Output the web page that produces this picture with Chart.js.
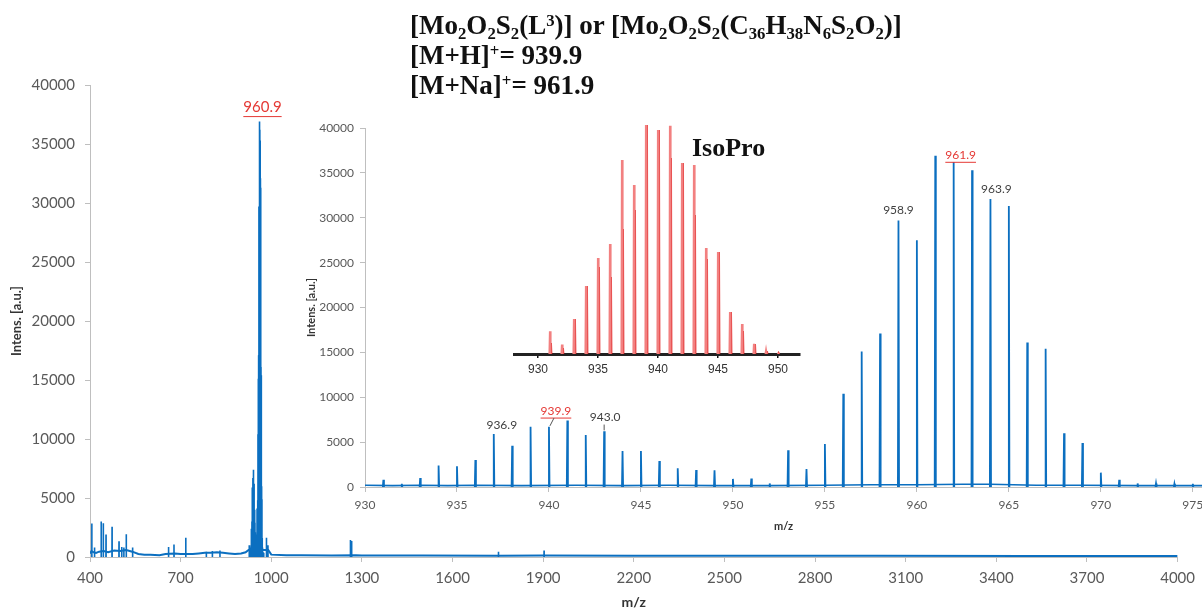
<!DOCTYPE html>
<html>
<head>
<meta charset="utf-8">
<script src="https://cdn.jsdelivr.net/npm/chart.js@4.4.0/dist/chart.umd.min.js"></script>
<style>
body{margin:0;background:#fff;width:1202px;height:613px;overflow:hidden;position:relative}
canvas{position:absolute}
#formula{position:absolute;left:410px;top:10px;font:bold 27px "Liberation Serif",serif;line-height:30px;color:#111;white-space:nowrap}
#formula sub,#formula sup{font-size:0.62em;line-height:0;position:relative;vertical-align:baseline}
#formula sub{top:0.32em}
#formula sup{top:-0.45em}
#iso{position:absolute;left:692px;top:133px;font:bold 26px "Liberation Serif",serif;line-height:30px;color:#111}
</style>
</head>
<body>
<canvas id="main" width="1202" height="613" style="left:0;top:0"></canvas>
<canvas id="inset" width="910" height="440" style="left:300px;top:100px"></canvas>
<canvas id="isopro" width="320" height="290" style="left:500px;top:100px"></canvas>
<div id="formula">[Mo<sub>2</sub>O<sub>2</sub>S<sub>2</sub>(L<sup>3</sup>)] or [Mo<sub>2</sub>O<sub>2</sub>S<sub>2</sub>(C<sub>36</sub>H<sub>38</sub>N<sub>6</sub>S<sub>2</sub>O<sub>2</sub>)]<br>[M+H]<sup>+</sup>= 939.9<br>[M+Na]<sup>+</sup>= 961.9</div>
<div id="iso">IsoPro</div>
<script>
// ---- data ----
// full range spectrum, baseline level
var mainBaseMz  = [400,405,412,420,430,445,460,480,500,520,540,560,580,600,630,650,680,700,740,760,780,800,820,840,860,880,900,915,925,990,1000,1050,1100,1200,1280,1300,1500,1750,1900,2200,2600,3000,3500,4000];
var mainBaseInt = [300,500,400,350,450,500,400,550,500,600,450,250,200,200,150,250,300,250,250,300,350,350,400,350,300,250,300,400,600,600,200,150,150,130,150,120,120,110,120,110,100,100,90,90];
// full range spectrum, isolated peaks outside the 930-975 window
var mainPeakMz  = [406,415,437,444,453,473,496,505,512,520,541,660,678,717,785,805,830,927,984,989,1262,1266,1752,1903];
var mainPeakInt = [2830,800,3000,2850,1900,2570,1330,850,800,1920,800,850,1050,1640,450,500,550,1000,1640,1000,1450,1350,450,560];

// zoomed window 930-975
var zoomMz  = [931,932,933,934,935,936,937,938,939,940,941,942,943,944,945,946,947,948,949,950,951,952,953,954,955,956,957,958,959,960,961,962,963,964,965,966,967,968,969,970,971,972,973,974,975];
var zoomInt = [800,350,1000,2400,2300,3000,5900,4600,6700,6700,7400,5800,6200,4000,4000,2900,2100,1900,1850,900,950,400,4100,2000,4800,10400,15100,17100,29700,27500,36900,36200,35300,32100,31300,16100,15400,6000,4900,1600,800,400,400,350,350];
var zoomBaseMz  = [930,931.5,933,934.5,936,938.5,941.5,944,946.5,949,952,955,957.5,960,962.5,964,966.5,969,972,975.5];
var zoomBaseInt = [200,150,200,150,200,150,200,150,200,150,150,200,250,250,300,300,200,200,150,150];

// IsoPro simulated pattern (relative %, light and dark sticks)
var isoMz    = [931,932,933,934,935,936,937,938,939,940,941,942,943,944,945,946,947,948,949,950];
var isoLight = [9.9,4.1,15.3,29.7,41.9,48,84.7,73.8,100,97.8,99.6,83.4,82.5,46.3,44.5,18.3,13.1,4.4,1.3,0.2];
var isoDark  = [4.8,2.6,15.3,29.7,38,33.6,54.6,62.9,100,97.8,85.6,83.4,60.7,41.5,44.5,18.3,10,4.4,1.3,0.2];

var BLUE = '#0b6fc0';
var AXIS = '#bfbfbf';
var TICK = '#595959';
var RED = '#e53935';

Chart.defaults.font.family = 'Lato';

function pts(xs, ys){
  var out = [];
  for (var i = 0; i < xs.length; i++) out.push({x: xs[i], y: ys[i]});
  return out;
}
// each peak as a thin spike, broken by a gap
function sticks(xs, ys, w, dx){
  var out = [];
  dx = dx || 0;
  for (var i = 0; i < xs.length; i++){
    var m = xs[i] + dx;
    out.push({x: m - w, y: 0}, {x: m, y: ys[i]}, {x: m + w, y: 0}, {x: m + w, y: null});
  }
  return out;
}
function plain(v){ return String(v); }

var peakLabels = {
  id: 'peakLabels',
  afterDatasetsDraw: function(chart, args, opts){
    var ctx = chart.ctx, xs = chart.scales.x, ys = chart.scales.y;
    (opts.items || []).forEach(function(it){
      var px = xs.getPixelForValue(it.mz), top = ys.getPixelForValue(it.y);
      var tx = px + it.dx, ty = top - it.dy;
      ctx.save();
      ctx.font = opts.font;
      ctx.fillStyle = it.color;
      ctx.textAlign = 'center';
      ctx.textBaseline = 'middle';
      ctx.fillText(it.text, tx, ty);
      var w = ctx.measureText(it.text).width;
      ctx.strokeStyle = it.color;
      ctx.lineWidth = 1;
      if (it.underline){
        ctx.beginPath();
        ctx.moveTo(tx - w / 2, ty + opts.size * 0.6);
        ctx.lineTo(tx + w / 2, ty + opts.size * 0.6);
        ctx.stroke();
      }
      if (it.leader){
        ctx.strokeStyle = '#555';
        ctx.beginPath();
        ctx.moveTo(px + it.leader[0], top - 1);
        ctx.lineTo(px + it.leader[1], ty + opts.size * 0.6);
        ctx.stroke();
      }
      ctx.restore();
    });
  }
};

function axisOpts(extra){
  var o = {
    grid: {display: true, drawOnChartArea: false, drawTicks: true, tickLength: 5, color: AXIS},
    border: {display: true, color: AXIS, width: 1}
  };
  for (var k in extra) o[k] = extra[k];
  return o;
}

// ---- main spectrum ----
new Chart(document.getElementById('main'), {
  type: 'line',
  data: {datasets: [
    {data: pts(mainBaseMz, mainBaseInt), borderColor: BLUE, borderWidth: 2, pointRadius: 0},
    {data: sticks(mainPeakMz.concat(zoomMz), mainPeakInt.concat(zoomInt), 0.3), borderColor: BLUE, borderWidth: 1.6, pointRadius: 0}
  ]},
  options: {
    responsive: false, animation: false, devicePixelRatio: 1,
    layout: {padding: {left: 0, right: 22, top: 85, bottom: 0}},
    plugins: {legend: {display: false}, tooltip: {enabled: false},
      peakLabels: {font: '15px Lato', size: 15, items: [
        {mz: 961, y: 36900, text: '960.9', color: RED, underline: true, dx: 3, dy: 14}
      ]}},
    scales: {
      x: axisOpts({type: 'linear', min: 400, max: 4000,
        ticks: {color: TICK, autoSkip: false, maxRotation: 0, stepSize: 300, padding: 7, font: {size: 15}, callback: plain},
        title: {display: true, text: 'm/z', color: '#333', font: {size: 14, weight: 'bold'}, padding: {top: 0, bottom: 2}},
        afterFit: function(s){ s.height = 56; }}),
      y: axisOpts({min: 0, max: 40000,
        ticks: {color: TICK, autoSkip: false, stepSize: 5000, padding: 10, font: {size: 15}, callback: plain},
        title: {display: true, text: 'Intens. [a.u.]', color: '#333', font: {size: 13, weight: 'bold'}, padding: {top: 9, bottom: 0}},
        afterFit: function(s){ s.width = 90; }})
    }
  },
  plugins: [peakLabels]
});

// ---- zoomed inset 930-975 ----
new Chart(document.getElementById('inset'), {
  type: 'line',
  data: {datasets: [
    {data: pts(zoomBaseMz, zoomBaseInt), borderColor: BLUE, borderWidth: 1.6, pointRadius: 0},
    {data: sticks(zoomMz, zoomInt, 0.03), borderColor: BLUE, borderWidth: 1.8, pointRadius: 0}
  ]},
  options: {
    responsive: false, animation: false, devicePixelRatio: 1,
    layout: {padding: {left: 0, right: 8, top: 28, bottom: 0}},
    plugins: {legend: {display: false}, tooltip: {enabled: false},
      peakLabels: {font: '12px Lato', size: 12, items: [
        {mz: 937, y: 5900, text: '936.9', color: '#404040', dx: 8, dy: 9},
        {mz: 940, y: 6700, text: '939.9', color: RED, underline: true, dx: 7, dy: 16, leader: [1, 5]},
        {mz: 943, y: 6200, text: '943.0', color: '#404040', dx: 1, dy: 14, leader: [0, 0]},
        {mz: 959, y: 29700, text: '958.9', color: '#404040', dx: 0, dy: 10},
        {mz: 962, y: 36200, text: '961.9', color: RED, underline: true, dx: 7, dy: 7},
        {mz: 964, y: 32100, text: '963.9', color: '#404040', dx: 6, dy: 10}
      ]}},
    scales: {
      x: axisOpts({type: 'linear', min: 930, max: 975.5,
        ticks: {color: TICK, autoSkip: false, maxRotation: 0, stepSize: 5, includeBounds: false, padding: 6, font: {size: 12}, callback: plain},
        title: {display: true, text: 'm/z', color: '#333', font: {size: 11, weight: 'bold'}, padding: {top: 0, bottom: 7}},
        afterFit: function(s){ s.height = 53; }}),
      y: axisOpts({min: 0, max: 40000,
        ticks: {color: TICK, autoSkip: false, stepSize: 5000, padding: 6, font: {size: 12}, callback: plain},
        title: {display: true, text: 'Intens. [a.u.]', color: '#333', font: {size: 11, weight: 'bold'}, padding: {top: 5, bottom: 0}},
        afterFit: function(s){ s.width = 65; }})
    }
  },
  plugins: [peakLabels]
});

// ---- IsoPro simulated isotope pattern ----
new Chart(document.getElementById('isopro'), {
  type: 'line',
  data: {datasets: [
    {data: sticks(isoMz, isoLight, 0.04), borderColor: '#f28080', borderWidth: 2.2, pointRadius: 0},
    {data: sticks(isoMz, isoDark, 0.03, 0.08), borderColor: '#dc1414', borderWidth: 2, pointRadius: 0}
  ]},
  options: {
    responsive: false, animation: false, devicePixelRatio: 1,
    layout: {padding: {left: 14, right: 20, top: 2, bottom: 0}},
    plugins: {legend: {display: false}, tooltip: {enabled: false}},
    scales: {
      x: {type: 'linear', min: 928, max: 951.83,
        grid: {display: true, drawOnChartArea: false, drawTicks: true, tickLength: 4, color: '#111', lineWidth: 1.5},
        border: {display: true, color: '#222', width: 3},
        ticks: {stepSize: 5, includeBounds: false, autoSkip: false, maxRotation: 0, color: '#333', padding: 4, font: {family: 'Liberation Sans', size: 12}, callback: plain},
        afterFit: function(s){ s.height = 36; }},
      y: {display: false, min: 0, max: 110}
    }
  }
});
</script>
</body>
</html>
